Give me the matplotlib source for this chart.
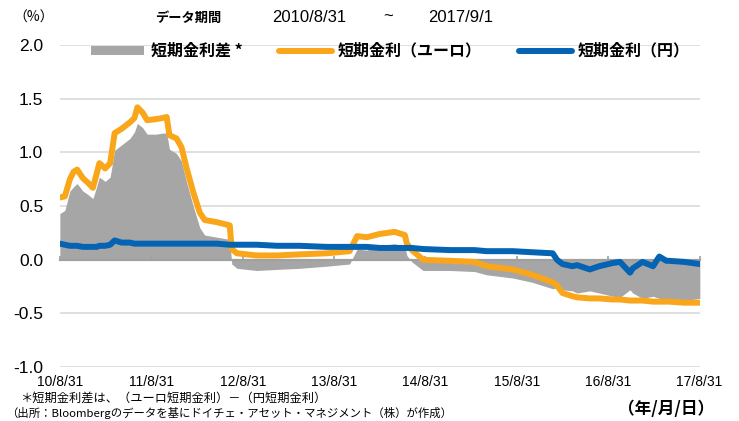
import matplotlib
matplotlib.use('Agg')
import matplotlib.pyplot as plt
from matplotlib.patches import Patch
from matplotlib.lines import Line2D
import pandas as pd

plt.rcParams['font.family'] = ['Liberation Sans', 'Noto Sans CJK JP']
JP = ['Noto Sans CJK JP', 'Liberation Sans']

# ── data ──────────────────────────────────────────────────────────────────
dates = pd.to_datetime([
    "2010-08-31", "2010-09-20", "2010-10-10", "2010-10-25", "2010-11-08", "2010-12-01",
    "2010-12-20", "2011-01-10", "2011-01-25", "2011-02-05", "2011-02-28", "2011-03-20",
    "2011-04-07", "2011-05-05", "2011-06-07", "2011-06-25", "2011-07-07", "2011-07-28",
    "2011-08-15", "2011-09-20", "2011-10-15", "2011-11-01", "2011-11-12", "2011-12-10",
    "2011-12-30", "2012-01-20", "2012-02-15", "2012-03-12", "2012-04-01", "2012-05-20",
    "2012-07-10", "2012-07-18", "2012-08-08", "2012-10-26", "2013-01-15", "2013-04-15",
    "2013-08-01", "2013-11-01", "2013-12-01", "2014-01-09", "2014-03-01", "2014-04-30",
    "2014-06-10", "2014-06-18", "2014-07-08", "2014-08-22", "2014-12-08", "2015-03-16",
    "2015-05-02", "2015-08-15", "2015-11-01", "2016-01-22", "2016-02-08", "2016-03-01",
    "2016-04-10", "2016-04-28", "2016-06-18", "2016-07-26", "2016-09-18", "2016-10-17",
    "2016-11-26", "2016-12-07", "2017-01-15", "2017-02-26", "2017-03-23", "2017-04-20",
    "2017-05-01", "2017-07-01", "2017-09-01",
])

euro = [
    0.58, 0.59, 0.75, 0.82, 0.84, 0.76, 0.72, 0.67, 0.80, 0.90, 0.85, 0.90,
    1.18, 1.22, 1.28, 1.32, 1.42, 1.37, 1.30, 1.31, 1.32, 1.33, 1.16, 1.13,
    1.05, 0.85, 0.63, 0.44, 0.37, 0.35, 0.32, 0.10, 0.06, 0.04, 0.04, 0.05,
    0.06, 0.08, 0.22, 0.21, 0.24, 0.26, 0.23, 0.15, 0.09, 0.00, -0.01, -0.02,
    -0.06, -0.09, -0.14, -0.21, -0.24, -0.31, -0.34, -0.35, -0.36, -0.36, -0.37, -0.37,
    -0.38, -0.38, -0.38, -0.39, -0.39, -0.39, -0.39, -0.40, -0.40,
]

yen = [
    0.15, 0.14, 0.13, 0.13, 0.13, 0.12, 0.12, 0.12, 0.12, 0.13, 0.13, 0.14,
    0.18, 0.16, 0.16, 0.15, 0.15, 0.15, 0.15, 0.15, 0.15, 0.15, 0.15, 0.15,
    0.15, 0.15, 0.15, 0.15, 0.15, 0.15, 0.14, 0.14, 0.14, 0.14, 0.13, 0.13,
    0.12, 0.12, 0.12, 0.12, 0.11, 0.11, 0.11, 0.11, 0.11, 0.10, 0.09, 0.09,
    0.08, 0.08, 0.07, 0.06, 0.00, -0.04, -0.06, -0.05, -0.09, -0.06, -0.03, -0.02,
    -0.12, -0.08, -0.02, -0.06, 0.03, -0.01, -0.01, -0.02, -0.04,
]

spread = [
    0.43, 0.46, 0.64, 0.68, 0.71, 0.64, 0.61, 0.57, 0.68, 0.77, 0.73, 0.77,
    1.02, 1.07, 1.13, 1.19, 1.27, 1.23, 1.17, 1.17, 1.18, 1.18, 1.03, 0.99,
    0.92, 0.72, 0.50, 0.30, 0.23, 0.21, 0.19, -0.04, -0.08, -0.10, -0.09, -0.08,
    -0.06, -0.04, 0.10, 0.09, 0.13, 0.15, 0.12, 0.04, -0.02, -0.10, -0.10, -0.11,
    -0.14, -0.17, -0.21, -0.27, -0.26, -0.28, -0.29, -0.31, -0.29, -0.31, -0.34, -0.35,
    -0.28, -0.31, -0.36, -0.34, -0.36, -0.37, -0.38, -0.38, -0.36,
]

xticks = pd.to_datetime(["2010-08-31", "2011-08-31", "2012-08-31", "2013-08-31",
                         "2014-08-31", "2015-08-31", "2016-08-31", "2017-08-31"])
xticklabels = ["10/8/31", "11/8/31", "12/8/31", "13/8/31",
               "14/8/31", "15/8/31", "16/8/31", "17/8/31"]
yticks = [2.0, 1.5, 1.0, 0.5, 0.0, -0.5, -1.0]

C_GRAY = '#a6a6a6'
C_ORANGE = '#f9a61a'
C_BLUE = '#0563b3'
C_GRID = '#d9d9d9'
C_ZERO = '#a0a0a0'

fig = plt.figure(figsize=(7.39, 4.21), dpi=100)
ax = fig.add_axes([0.081, 0.128, 0.866, 0.765])

ax.fill_between(dates, 0, spread, color=C_GRAY, lw=0, zorder=2)
ax.plot(dates, euro, color=C_ORANGE, lw=4.3, solid_capstyle='round', zorder=3)
ax.plot(dates, yen, color=C_BLUE, lw=4.3, solid_capstyle='round', zorder=4)

ax.set_xlim(pd.Timestamp("2010-08-31"), pd.Timestamp("2017-09-01"))
ax.set_ylim(-1.0, 2.0)
ax.set_yticks(yticks)
ax.set_yticklabels([f'{v:.1f}' for v in yticks], fontsize=12.5)
ax.set_xticks(xticks)
ax.set_xticklabels(xticklabels, fontsize=10)
ax.tick_params(axis='both', length=0)
ax.tick_params(axis='y', pad=12)
ax.tick_params(axis='x', pad=6)
for s in ax.spines.values():
    s.set_visible(False)
for v in yticks:
    if v != 0:
        ax.axhline(v, color=C_GRID, lw=1.2, zorder=1)

# zero line with small upward tick marks, drawn over the grey area
sec = ax.secondary_xaxis(1 / 3)
sec.set_zorder(2.5)
sec.set_xticks(xticks)
sec.set_xticklabels([])
sec.tick_params(axis='x', direction='in', length=3, color=C_ZERO, width=1.2)
sec.spines['bottom'].set_color(C_ZERO)
sec.spines['bottom'].set_linewidth(1.6)

handles = [
    Patch(facecolor=C_GRAY, edgecolor='none'),
    Line2D([0], [0], color=C_ORANGE, lw=4.3, solid_capstyle='round'),
    Line2D([0], [0], color=C_BLUE, lw=4.3, solid_capstyle='round'),
]
labels = ['短期金利差 *', '短期金利（ユーロ）', '短期金利（円）']
leg = ax.legend(handles, labels, loc='center', bbox_to_anchor=(0.517, 0.982),
                ncol=3, frameon=False, handlelength=3.3, handleheight=0.5,
                handletextpad=0.4, columnspacing=2.3,
                prop={'family': JP, 'size': 11.5, 'weight': 'bold'})

fig.text(0.018, 0.958, '（%）', fontsize=10, family=JP, ha='left', va='center')
fig.text(0.21, 0.958, 'データ期間', fontsize=9.5, family=JP, fontweight='bold',
         ha='left', va='center')
fig.text(0.368, 0.958, '2010/8/31', fontsize=12, ha='left', va='center')
fig.text(0.518, 0.958, '~', fontsize=12, ha='left', va='center')
fig.text(0.579, 0.958, '2017/9/1', fontsize=12, ha='left', va='center')

fig.text(0.027, 0.055, '＊短期金利差は、（ユーロ短期金利）－（円短期金利）', fontsize=8.8,
         family=JP, ha='left', va='center')
fig.text(0.008, 0.018, '（出所：Bloombergのデータを基にドイチェ・アセット・マネジメント（株）が作成）',
         fontsize=8.2, family=JP, ha='left', va='center')
fig.text(0.966, 0.028, '（年/月/日）', fontsize=12, family=JP, fontweight='bold',
         ha='right', va='center')

fig.savefig('out.png', dpi=100, facecolor='white')
